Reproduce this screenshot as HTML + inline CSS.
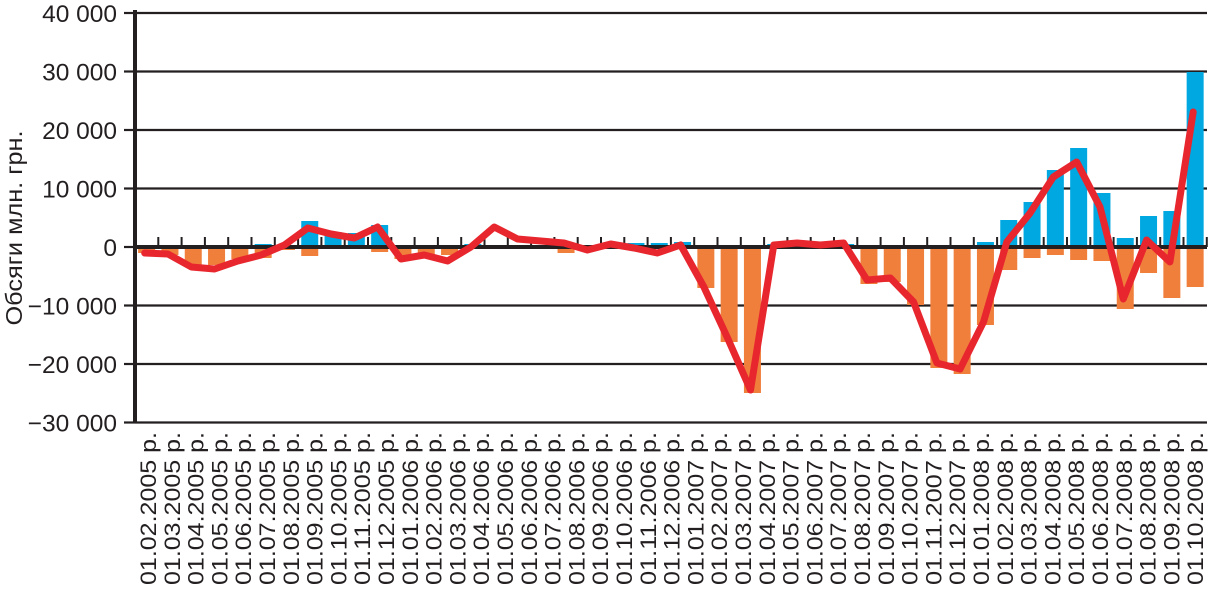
<!DOCTYPE html>
<html><head><meta charset="utf-8"><style>
html,body{margin:0;padding:0;background:#fff;}
svg{display:block;}
text{font-family:"Liberation Sans",Arial,sans-serif;fill:#231f20;}
</style></head><body>
<svg id="s" width="1215" height="590" viewBox="0 0 1215 590" xmlns="http://www.w3.org/2000/svg">
<g id="grid"></g>
<g id="bars"></g>
<g id="axes"></g>
<polyline id="line" fill="none" stroke="#e8262e" stroke-width="7" stroke-linejoin="round" stroke-linecap="round"/>
<g id="labels"></g>
<text transform="translate(22,228) rotate(-90)" text-anchor="middle" font-size="23" textLength="195" lengthAdjust="spacingAndGlyphs">Обсяги  млн. грн.</text>
</svg>
<script>
var NS="http://www.w3.org/2000/svg";
function el(p,t,a,txt){var e=document.createElementNS(NS,t);for(var k in a)e.setAttribute(k,a[k]);if(txt!=null)e.textContent=txt;document.getElementById(p).appendChild(e);return e;}
var Z=247,S=58.5,X0=135,X1=1207,D=23.3;
var ylab=["40 000","30 000","20 000","10 000","0","\u221210 000","\u221220 000","\u221230 000"];
for(var i=0;i<8;i++){var y=13+S*i;
 if(i!=4) el("grid","line",{x1:X0,x2:X1,y1:y,y2:y,stroke:"#231f20","stroke-width":2.2});
 el("axes","line",{x1:124,x2:X0,y1:y,y2:y,stroke:"#231f20","stroke-width":2.2});
 el("labels","text",{x:117,y:y+9,"text-anchor":"end","font-size":24.5},ylab[i]);}
var blue={5:244,7:221,8:232,9:233,10:225,14:244,18:244,21:243,22:243,23:242,27:244,28:244,29:244,30:244,36:242,37:220,38:202,39:170,40:148,41:193,42:238,43:216,44:211,45:72};
var org={0:253,1:255,2:266,3:265,4:259,5:258,6:250,7:256,10:252,11:259,12:257,13:255,15:249,18:253,24:288,25:342,26:393,31:284,32:282,33:305,34:368,35:374,36:325,37:270,38:258,39:255,40:260,41:261,42:309,43:273,44:298,45:287};
for(var k=0;k<46;k++){var cx=X0+D*(k+0.5);
 if(blue[k]) el("bars","rect",{x:cx-8.5,y:blue[k],width:17,height:Z-blue[k],fill:"#00a8e1"});
 if(org[k]) el("bars","rect",{x:cx-8.5,y:Z,width:17,height:org[k]-Z,fill:"#f07f3c"});}
el("axes","line",{x1:X0,x2:X1,y1:Z,y2:Z,stroke:"#231f20","stroke-width":4});
for(var k=0;k<=46;k++){var x=X0+D*k;el("axes","line",{x1:x,x2:x,y1:Z-10,y2:Z,stroke:"#231f20","stroke-width":2});}
el("axes","line",{x1:X0,x2:X0,y1:10,y2:423,stroke:"#231f20","stroke-width":4});
var ly=[253,254,267,269,261,255,245,228,234,238,227,259,255,261,247,227,239,241,243,250,244,248,253,245,287,337,390,245,243,245,243,280,278,302,363,369,322,242,213,177,162,207,299,240,262,112];
var pts=[];for(var k=0;k<46;k++)pts.push((X0+D*(k+0.5)-2).toFixed(1)+","+ly[k]);
document.getElementById("line").setAttribute("points",pts.join(" "));
var m=2,yr=2005;
for(var i=0;i<45;i++){var cx=148+23.8*i;var s="01."+(m<10?"0":"")+m+"."+yr+" р.";
 el("labels","text",{transform:"translate("+(cx+8)+",432) rotate(-90)","text-anchor":"end","font-size":22,textLength:153,lengthAdjust:"spacingAndGlyphs"},s);
 m++;if(m>12){m=1;yr++;}}
</script>
</body></html>
